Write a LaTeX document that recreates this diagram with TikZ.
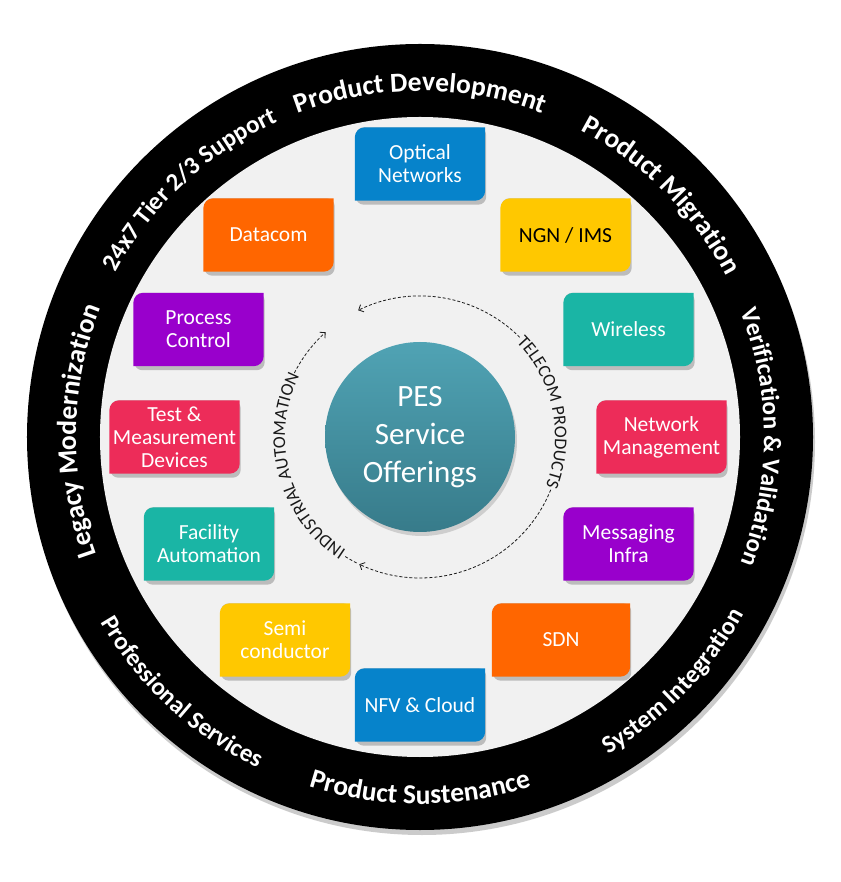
\documentclass[tikz,border=0pt]{standalone}
\usepackage{fontspec}
\setmainfont{Carlito}
\usepackage{tikz}
\usetikzlibrary{arrows.meta,backgrounds,decorations.text,shadows}

\definecolor{pesblue}{RGB}{6,131,203}
\definecolor{pesorange}{RGB}{255,102,0}
\definecolor{pesyellow}{RGB}{255,200,0}
\definecolor{pespurple}{RGB}{153,0,204}
\definecolor{pesteal}{RGB}{26,181,165}
\definecolor{pespink}{RGB}{237,44,89}
\definecolor{discgray}{RGB}{241,241,241}
\definecolor{hubtop}{RGB}{80,163,180}
\definecolor{hubbottom}{RGB}{55,123,138}
\definecolor{loopgray}{RGB}{25,25,25}

\newcommand{\boxfont}{\fontsize{21.5}{23}\selectfont}
\newcommand{\ringfont}{\bfseries\fontsize{25}{25}\selectfont}
\newcommand{\widefont}{\fontsize{27.5}{27.5}\selectfont}
\newcommand{\loopfont}{\fontsize{18}{18}\selectfont}
\newcommand{\hubfont}{\fontsize{31}{38}\selectfont}

\tikzset{
  pesbox/.style={minimum width=130pt, minimum height=73pt, inner sep=1pt, align=center, text=white, font=\boxfont},
  ringtext/.style={decorate, decoration={text along path, text align=center, text color=white, text={|\ringfont|#1}}},
  looptext/.style={decorate, decoration={text along path, text align=center, text color=loopgray, text={|\loopfont|#1}}},
  looparrow/.style={loopgray, line width=.8pt, dash pattern=on 3pt off 2pt},
}

\begin{document}
\begin{tikzpicture}[x=1pt, y=1pt, >={Straight Barb[length=4pt, width=8pt]}]
\useasboundingbox (-420,-445) rectangle (420,437);

% ring and inner disc
\begin{scope}[on background layer]
\fill[white] (-420,-445) rectangle (420,437);
\fill[black!40, opacity=.5] (2,-5) circle (393);
\fill[black] (0,0) circle (393);
\fill[discgray] (0,0) circle (320);
\end{scope}

% offerings
\node[pesbox] (optical) at (0,273) {Optical\\Networks};
\node[pesbox] (datacom) at (-151.5,202) {Datacom};
\node[pesbox, text=black] (ngn) at (145.5,202) {NGN / IMS};
\node[pesbox] (process) at (-221.5,107.5) {Process\\Control};
\node[pesbox] (wireless) at (208.5,107.5) {Wireless};
\node[pesbox] (test) at (-245.5,0) {Test \&\\Measurement\\Devices};
\node[pesbox] (netmgmt) at (241.5,0) {Network\\Management};
\node[pesbox] (facility) at (-211,-107) {Facility\\Automation};
\node[pesbox] (messaging) at (208.5,-107) {Messaging\\Infra};
\node[pesbox] (semi) at (-135,-203) {Semi\\conductor};
\node[pesbox, minimum width=138pt] (sdn) at (141,-203) {SDN};
\node[pesbox] (nfv) at (0,-268) {NFV \& Cloud};

\begin{scope}[on background layer]
\foreach \bx/\col in {optical/pesblue, nfv/pesblue, datacom/pesorange, sdn/pesorange,
    ngn/pesyellow, semi/pesyellow, process/pespurple, messaging/pespurple,
    wireless/pesteal, facility/pesteal, test/pespink, netmgmt/pespink}{
  \fill[black, opacity=.22, rounded corners=8pt] ([xshift=1pt, yshift=-4pt]\bx.south west) rectangle ([xshift=1pt]\bx.north east);
  \fill[fill=\col] (\bx.south west) -- ([yshift=-10pt]\bx.north west)
    arc[start angle=180, end angle=90, radius=10pt] -- (\bx.north east)
    -- ([yshift=10pt]\bx.south east) arc[start angle=0, end angle=-90, radius=10pt] -- cycle;
}
\end{scope}

% hub
\node[circle, minimum size=190pt, top color=hubtop, bottom color=hubbottom,
  drop shadow={opacity=.3, shadow xshift=2pt, shadow yshift=-4pt},
  text=white, font=\hubfont, align=center] (pes) at (0,0) {PES\\Service\\Offerings};

% dashed loop
\draw[looparrow, ->] (45:141) arc[start angle=45, end angle=116, radius=141];
\draw[looparrow, ->] (-22:141) arc[start angle=-22, end angle=-115.5, radius=141];
\draw[looparrow, ->] (153:141) arc[start angle=153, end angle=132, radius=141];
\draw[looparrow] (238:141) arc[start angle=238, end angle=244, radius=141];
\path[looptext={TELECOM PRODUCTS}] (60:135) arc[start angle=60, end angle=-37, radius=135];
\path[looptext={INDUSTRIAL AUTOMATION}] (240:135) arc[start angle=240, end angle=150, radius=135];

% ring labels
\path[ringtext={|+\widefont|Product Development}] (134:346) arc[start angle=134, end angle=46, radius=346];
\path[ringtext={|+\widefont|Product Migration}] (89:346) arc[start angle=89, end angle=1, radius=346];
\path[ringtext={Verification {\&} Validation}] (44:344) arc[start angle=44, end angle=-44, radius=344];
\path[ringtext={24x7 Tier 2/3 Support}] (177:346) arc[start angle=177, end angle=89, radius=346];
\path[ringtext={|+\widefont|Legacy Modernization}] (223:344) arc[start angle=223, end angle=135, radius=344];
\path[ringtext={System Integration}] (-88:369) arc[start angle=-88, end angle=0, radius=369];
\path[ringtext={|+\widefont|Product Sustenance}] (-134:367) arc[start angle=-134, end angle=-46, radius=367];
\path[ringtext={Professional Services}] (-177:369) arc[start angle=-177, end angle=-89, radius=369];
\end{tikzpicture}
\end{document}
